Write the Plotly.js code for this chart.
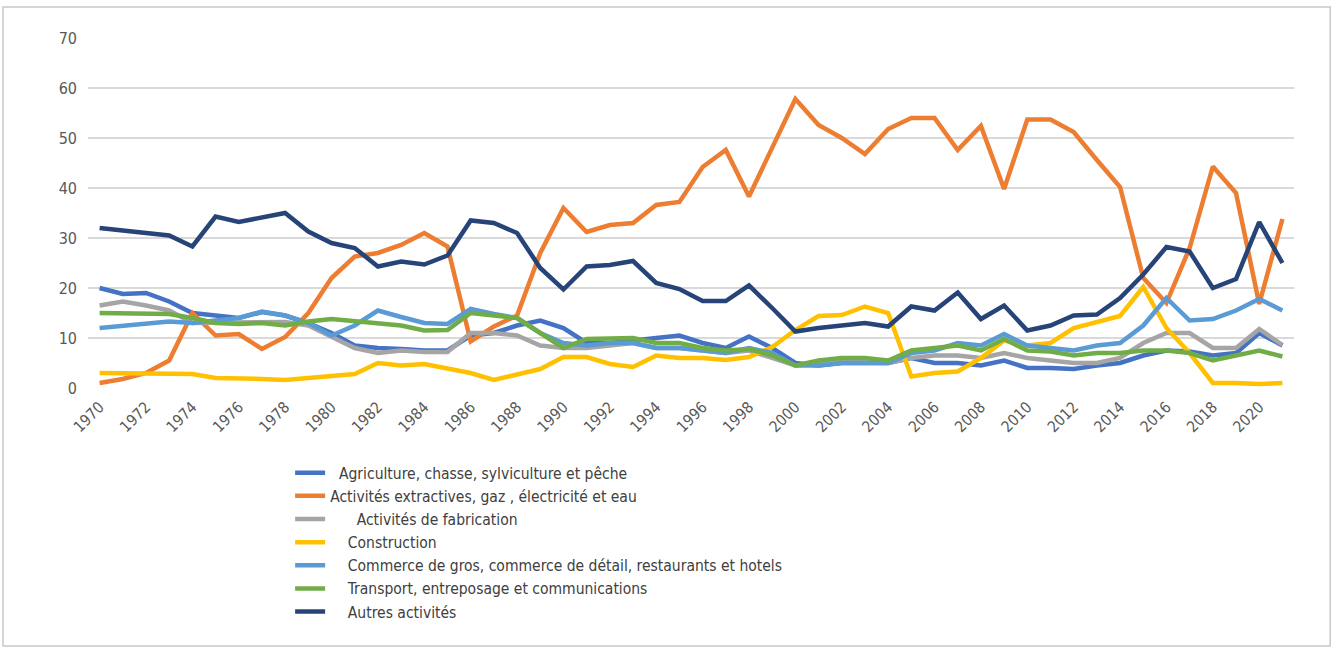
<!DOCTYPE html>
<html>
<head>
<meta charset="utf-8">
<script src="https://cdn.plot.ly/plotly-3.0.1.min.js"></script>
<style>html,body{margin:0;padding:0;background:#fff;}#chart{width:1344px;height:649px;}</style>
</head>
<body>
<div id="chart"></div>
<script>
const years = [];
for (let y = 1970; y <= 2021; y++) years.push(y);

const seriesNames = [
  "\u00A0\u00A0Agriculture, chasse, sylviculture et pêche",
  "Activités extractives, gaz , électricité et eau",
  "\u00A0\u00A0\u00A0\u00A0\u00A0\u00A0Activités de fabrication",
  "\u00A0\u00A0\u00A0\u00A0Construction",
  "\u00A0\u00A0\u00A0\u00A0Commerce de gros, commerce de détail, restaurants et hotels",
  "\u00A0\u00A0\u00A0\u00A0Transport, entreposage et communications",
  "\u00A0\u00A0\u00A0\u00A0Autres activités"
];
const seriesColors = ["#4472C4", "#ED7D31", "#A5A5A5", "#FFC000", "#5B9BD5", "#70AD47", "#264478"];

const agriculture = [20,18.8,19,17.3,15,14.5,14,15.2,14.5,13,
  11,8.5,8,7.8,7.5,7.5,10.5,11,12.5,13.5,
  12,9,9,9.5,10,10.5,9,8,10.3,8,
  5,4.5,5,5,5,6,5,5,4.5,5.5,
  4,4,3.8,4.5,5,6.5,7.5,7.3,6.5,7,
  11,8.5];
const extractives = [1,1.8,3,5.5,15,10.5,10.8,7.8,10.2,15,
  22,26.3,27,28.6,31,28.3,9.3,12.3,14.5,27,
  36,31.2,32.6,33,36.6,37.2,44.2,47.6,38.3,48.2,
  57.8,52.6,50,46.8,51.8,54,54,47.6,52.4,39.8,
  53.7,53.7,51.2,45.6,40.2,22,17,28,44.3,39,
  16.8,33.8];
const fabrication = [16.5,17.3,16.5,15.5,13,13,13,13,13.2,12.5,
  10.3,8,7,7.5,7.2,7.2,11,11,10.5,8.5,
  8,8,8.5,9,8,8,7.5,7,7.5,6,
  4.5,5,5.5,5.5,5,6,6.5,6.5,6,7,
  6,5.5,5,5,6,9,11,11,8,8,
  11.8,8.6];
const construction = [3,3,3,3,2.8,2,2,1.8,1.6,2,
  2.5,2.8,5,4.5,4.8,3.8,3,1.6,2.8,3.8,
  6.2,6.2,4.8,4.2,6.5,6,6,5.6,6.2,8.2,
  11.6,14.4,14.6,16.3,15,2.3,3,3.3,6,9.5,
  8.5,9,12,13.3,14.4,20.2,12,7,1,1,
  0.8,1];
const commerce = [12,12.5,12.8,13.3,13,13.5,14,15.3,14.5,13,
  10.5,12.5,15.5,14.2,13,12.8,15.8,14.8,14,11,
  9,8.5,9,9,8,8,7.5,7,8,7,
  4.5,4.5,5,5,5,7,7.5,9,8.5,10.8,
  8.5,8,7.5,8.5,9,12.5,18,13.5,13.8,15.5,
  17.8,15.5];
const transport = [15,15,15,14.8,14,13,12.8,13,12.5,13.3,
  13.8,13.3,12.8,12.5,11.5,11.6,15,14.5,14,11,
  8,9.8,10,10,9,9,8,7.5,7.8,6.5,
  4.5,5.5,6,6,5.5,7.5,8,8.5,7.5,9.8,
  7.5,7.3,6.5,7,7,7.5,7.5,7,5.5,6.5,
  7.5,6.3];
const autres = [32,31.5,31,30.5,28.3,34.3,33.2,34,35,31.3,
  29,28,24.3,25.3,24.7,26.5,33.5,33,31,24,
  19.7,24.3,24.6,25.4,21,19.8,17.4,17.4,20.5,16,
  11.3,12,12.4,13,12.3,16.3,15.5,19.1,13.8,16.5,
  11.5,12.5,14.5,14.7,18,22.7,28.2,27.3,20,21.8,
  33.2,25];

const yTicks = [0,10,20,30,40,50,60,70];
const xTicks = [];
for (let y = 1970; y <= 2020; y += 2) xTicks.push(y);

const allValues = [agriculture, extractives, fabrication, construction, commerce, transport, autres];
const traces = allValues.map((vals, i) => ({
  type: "scatter",
  mode: "lines",
  x: years,
  y: vals,
  name: seriesNames[i],
  line: {color: seriesColors[i], width: 4.5},
  hoverinfo: "x+y+name"
}));

const fontFam = "Liberation Sans Narrow, DejaVu Sans Condensed, Roboto, sans-serif";
const layout = {
  width: 1344,
  height: 649,
  margin: {l: 88, r: 50.4, t: 38, b: 261},
  paper_bgcolor: "#ffffff",
  plot_bgcolor: "#ffffff",
  showlegend: true,
  font: {family: fontFam, color: "#595959"},
  xaxis: {
    range: [1969.5, 2021.5],
    tickmode: "array",
    tickvals: xTicks,
    ticktext: xTicks.map(String),
    tickangle: -45,
    showgrid: false,
    zeroline: false,
    showline: false,
    ticks: "",
    ticklabelstandoff: 6,
    tickfont: {size: 15.5, color: "#595959", family: fontFam}
  },
  yaxis: {
    range: [0, 70],
    tickmode: "array",
    tickvals: yTicks,
    showgrid: true,
    gridcolor: "#d9d9d9",
    gridwidth: 1.5,
    zeroline: false,
    showline: false,
    ticks: "",
    ticklabelstandoff: 10,
    tickfont: {size: 16, color: "#595959", family: fontFam}
  },
  legend: {
    orientation: "v",
    x: 0.1676,
    xanchor: "left",
    y: -0.1946,
    yanchor: "top",
    font: {size: 15.5, color: "#404040", family: fontFam},
    bgcolor: "rgba(0,0,0,0)",
    tracegroupgap: 0
  },
  shapes: [{
    type: "rect", xref: "paper", yref: "paper",
    x0: -0.0705, x1: 1.030, y0: -0.737, y1: 1.0886,
    line: {color: "#c8c8c8", width: 1.5},
    fillcolor: "rgba(0,0,0,0)",
    layer: "below"
  }]
};

Plotly.newPlot("chart", traces, layout, {displayModeBar: false, staticPlot: true});
</script>
</body>
</html>
